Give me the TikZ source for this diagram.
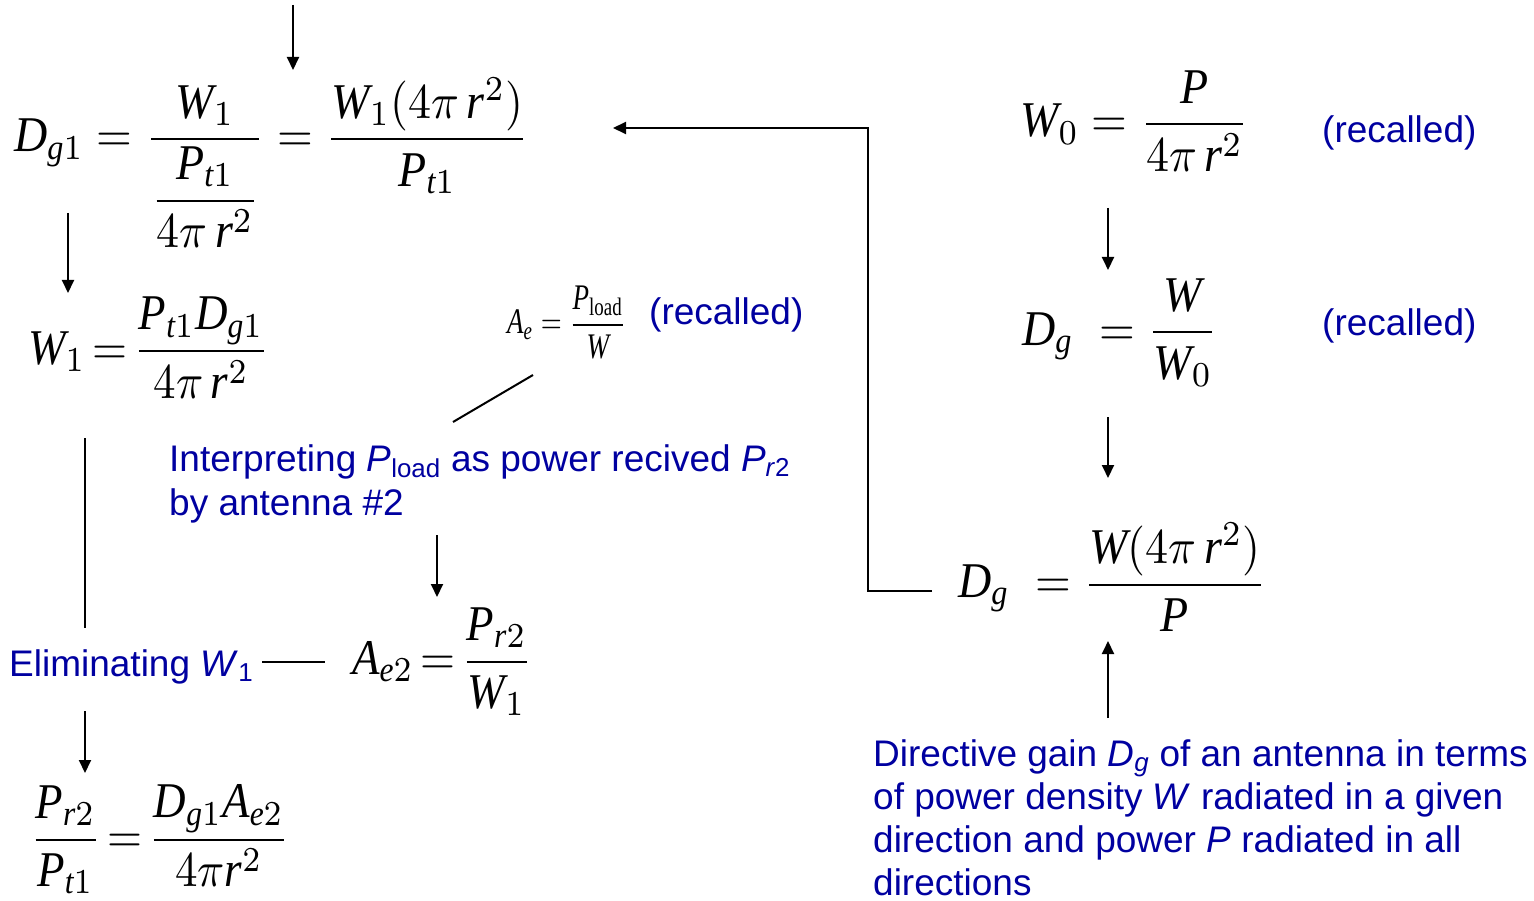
\RequirePackage{fix-cm}
\documentclass[tikz,border=0pt]{standalone}
\usepackage{amsmath}
\usepackage{fontspec}
\setmainfont{Liberation Serif}
\newfontfamily\tmsfont[NFSSFamily=tms]{Liberation Serif}
\newfontfamily\bsans{Liberation Sans}
\DeclareSymbolFont{tmr}{TU}{tms}{m}{n}
\DeclareMathSymbol{0}{\mathalpha}{tmr}{`0}
\DeclareMathSymbol{1}{\mathalpha}{tmr}{`1}
\DeclareMathSymbol{2}{\mathalpha}{tmr}{`2}
\DeclareMathSymbol{4}{\mathalpha}{tmr}{`4}
\DeclareMathSymbol{(}{\mathopen}{tmr}{`(}
\DeclareMathSymbol{)}{\mathclose}{tmr}{`)}
\usetikzlibrary{arrows.meta}
\definecolor{tblue}{RGB}{0,0,160}
\newcommand\vA{\mathit{A}}
\newcommand\vD{\mathit{D}}
\newcommand\vW{\mathit{W}}
\newcommand\vP{\mathit{P}}
\newcommand\vg{\mathit{g}}
\newcommand\vt{\mathit{t}}
\newcommand\vr{\mathit{r}}
\newcommand\ve{\mathit{e}}
\newcommand\bigmath[1]{\scalebox{4.6}[5]{$#1$}}
\newcommand\bigmathtight[1]{\scalebox{4.5}[5]{$\thickmuskip=2.5mu #1$}}
\tikzset{
  eq/.style={inner sep=0pt, anchor=base west, font=\fontsize{10}{12}\selectfont},
  btxt/.style={inner sep=0pt, anchor=base west, text=tblue, align=left,
    font=\bsans\fontsize{37}{44}\selectfont},
  dtxt/.style={btxt, font=\bsans\fontsize{37}{43}\selectfont},
  conn/.style={line width=2pt, draw=black},
  arr/.style={conn, -{Triangle[length=13pt,width=12pt]}},
}
\begin{document}
\begin{tikzpicture}[x=1pt,y=-1pt]
\useasboundingbox (0,0) rectangle (1534,901);

% equations
\node[eq] (dg1) at (14,152) {\bigmath{\vD_{\vg1} = \dfrac{\vW_1}{\dfrac{\vP_{\vt1}}{4\pi\,\vr^2}} = \dfrac{\vW_1(4\pi\,\vr^2)}{\vP_{\vt1}}}};
\node[eq] (w1) at (28,364) {\bigmathtight{\vW_1 = \dfrac{\vP_{\vt1}\vD_{\vg1}}{4\pi\,\vr^2}}};
\node[eq] (ae) at (507,334) {\scalebox{2.7}[3.6]{$\vA_{\ve} = \dfrac{\vP_{\mathrm{load}}}{\vW}$}};
\node[eq] (ae2) at (352,674) {\bigmathtight{\vA_{\ve2} = \dfrac{\vP_{\vr2}}{\vW_1}}};
\node[eq] (res) at (30,852) {\bigmathtight{\dfrac{\vP_{\vr2}}{\vP_{\vt1}} = \dfrac{\vD_{\vg1}\vA_{\ve2}}{4\pi\vr^2}}};
\node[eq] (w0) at (1020,137) {\bigmath{\vW_0 = \dfrac{\vP}{4\pi\,\vr^2}}};
\node[eq] (dgr) at (1022,345) {\bigmath{\vD_{\vg}\; = \dfrac{\vW}{\vW_0}}};
\node[eq] (dgf) at (958,597) {\bigmath{\vD_{\vg}\; = \dfrac{\vW(4\pi\,\vr^2)}{\vP}}};

% blue texts (multi-line nodes: base = last line)
\node[btxt] (rc1) at (649,325) {(recalled)};
\node[btxt] (rc2) at (1322,143) {(recalled)};
\node[btxt] (rc3) at (1322,335) {(recalled)};
\node[btxt] (interp) at (169,515) {Interpreting \textit{P}\textsubscript{load} as power recived \textit{P}\textsubscript{\textit{r}2}\\by antenna \#2};
\node[btxt] (elim) at (9,676) {Eliminating \textit{W}\textsubscript{1}};
\node[dtxt] (dirg) at (873,895) {Directive gain \textit{D}\textsubscript{\textit{g}} of an antenna in terms\\of power density \textit{W} radiated in a given\\direction and power \textit{P} radiated in all\\directions};

% connector end points
\coordinate (a1s) at (293,5);    \coordinate (a1e) at (293,70);
\coordinate (a2s) at (68,213);   \coordinate (a2e) at (68,293);
\coordinate (l1s) at (533,375);  \coordinate (l1e) at (453,422);
\coordinate (l2s) at (85,438);   \coordinate (l2e) at (85,628);
\coordinate (l3s) at (262,662);  \coordinate (l3e) at (325,662);
\coordinate (a3s) at (437,535);  \coordinate (a3e) at (437,597);
\coordinate (a4s) at (85,711);   \coordinate (a4e) at (85,773);
\coordinate (a5s) at (1108,208); \coordinate (a5e) at (1108,270);
\coordinate (a6s) at (1108,417); \coordinate (a6e) at (1108,478);
\coordinate (a7s) at (1108,718); \coordinate (a7e) at (1108,641);
\coordinate (e1) at (932,591);   \coordinate (e2) at (868,591);
\coordinate (e3) at (868,128);   \coordinate (e4) at (613,128);

\draw[arr] (a1s) -- (a1e);
\draw[arr] (a2s) -- (a2e);
\draw[conn] (l1s) -- (l1e);
\draw[conn] (l2s) -- (l2e);
\draw[conn] (l3s) -- (l3e);
\draw[arr] (a3s) -- (a3e);
\draw[arr] (a4s) -- (a4e);
\draw[arr] (a5s) -- (a5e);
\draw[arr] (a6s) -- (a6e);
\draw[arr] (a7s) -- (a7e);
\draw[arr] (e1) -- (e2) -- (e3) -- (e4);
\end{tikzpicture}
\end{document}
